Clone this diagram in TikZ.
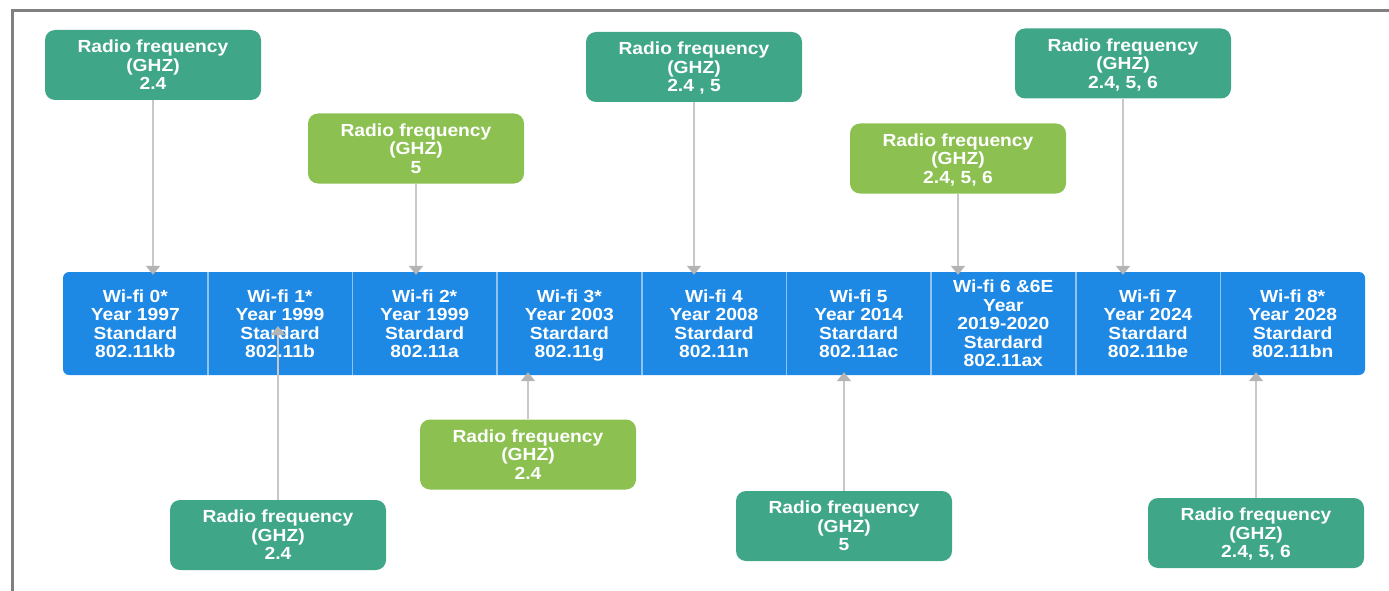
\documentclass[tikz,border=0pt]{standalone}
\usepackage{fontspec}
\setmainfont[FakeStretch=1.1]{Liberation Sans}
\usetikzlibrary{arrows.meta}
\definecolor{barblue}{HTML}{1E88E5}
\definecolor{divblue}{HTML}{8EC3F2}
\definecolor{dkgreen}{HTML}{3FA687}
\definecolor{ltgreen}{HTML}{8CC152}
\definecolor{conngray}{HTML}{C8C8C8}
\definecolor{tipgray}{HTML}{B4B4B4}
\definecolor{framegray}{HTML}{808080}
\tikzset{
  txt/.style={text=white, align=center, text depth=0pt, font=\fontsize{17.5}{18.5}\selectfont\bfseries},
  rfbox/.style={txt, rounded corners=10pt, minimum width=216pt, minimum height=70pt, inner sep=0pt},
  rfdark/.style={rfbox, fill=dkgreen},
  rflight/.style={rfbox, fill=ltgreen},
  cell/.style={txt, minimum width=144.67pt, minimum height=103pt, inner sep=0pt},
  barshape/.style={fill=barblue, rounded corners=6pt, minimum width=1302pt, minimum height=103pt, inner sep=0pt},
  divider/.style={draw=divblue, line width=1.8pt},
  conn/.style={draw=conngray, line width=1.8pt, shorten >=-3pt, -{Triangle[width=14pt,length=9pt,color=tipgray]}},
  frameline/.style={draw=framegray, line width=3pt}
}
\begin{document}
\begin{tikzpicture}[x=1pt,y=-1pt]
\useasboundingbox (0,0) rectangle (1389,591);
\draw[frameline] (12,591) -- (12,11) -- (1389,11);

% bar
\node[barshape] (bar) at (714,323.5) {};
\node[cell] (w0) at (135.33,323.5) {Wi-fi 0*\\Year 1997\\Standard\\802.11kb};
\node[cell] (w1) at (280.00,323.5) {Wi-fi 1*\\Year 1999\\Stardard\\802.11b};
\node[cell] (w2) at (424.67,323.5) {Wi-fi 2*\\Year 1999\\Stardard\\802.11a};
\node[cell] (w3) at (569.33,323.5) {Wi-fi 3*\\Year 2003\\Stardard\\802.11g};
\node[cell] (w4) at (714.00,323.5) {Wi-fi 4\\Year 2008\\Stardard\\802.11n};
\node[cell] (w5) at (858.67,323.5) {Wi-fi 5\\Year 2014\\Stardard\\802.11ac};
\node[cell] (w6) at (1003.33,323.5) {Wi-fi 6 \&6E\\Year\\2019-2020\\Stardard\\802.11ax};
\node[cell] (w7) at (1148.00,323.5) {Wi-fi 7\\Year 2024\\Stardard\\802.11be};
\node[cell] (w8) at (1292.67,323.5) {Wi-fi 8*\\Year 2028\\Stardard\\802.11bn};
\foreach \c in {w0,w1,w2,w3,w4,w5,w6,w7}{
  \draw[divider] (\c.north east) -- (\c.south east);
}

% radio frequency boxes
\node[rfdark]  (t0) at (153,65)   {Radio frequency\\(GHZ)\\2.4};
\node[rflight] (t2) at (416,148.5) {Radio frequency\\(GHZ)\\5};
\node[rfdark]  (t4) at (694,67)   {Radio frequency\\(GHZ)\\2.4 , 5};
\node[rflight] (t6) at (958,158.5) {Radio frequency\\(GHZ)\\2.4, 5, 6};
\node[rfdark]  (t7) at (1123,63.5) {Radio frequency\\(GHZ)\\2.4, 5, 6};
\node[rfdark]  (b1) at (278,535)  {Radio frequency\\(GHZ)\\2.4};
\node[rflight] (b3) at (528,454.5) {Radio frequency\\(GHZ)\\2.4};
\node[rfdark]  (b5) at (844,526)  {Radio frequency\\(GHZ)\\5};
\node[rfdark]  (b8) at (1256,533) {Radio frequency\\(GHZ)\\2.4, 5, 6};

% connectors
\coordinate (b1end) at (278,326);
\draw[conn] (t0.south) -- (t0.south |- bar.north);
\draw[conn] (t2.south) -- (t2.south |- bar.north);
\draw[conn] (t4.south) -- (t4.south |- bar.north);
\draw[conn] (t6.south) -- (t6.south |- bar.north);
\draw[conn] (t7.south) -- (t7.south |- bar.north);
\draw[conn, shorten >=0pt] (b1.north) -- (b1end);
\draw[conn] (b3.north) -- (b3.north |- bar.south);
\draw[conn] (b5.north) -- (b5.north |- bar.south);
\draw[conn] (b8.north) -- (b8.north |- bar.south);
\end{tikzpicture}
\end{document}
